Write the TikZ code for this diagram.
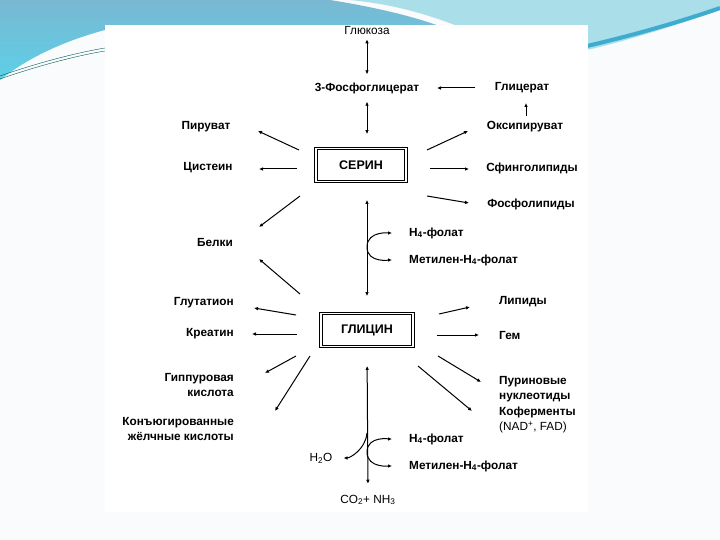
\documentclass[tikz,border=0pt]{standalone}
\usepackage{fontspec}
\setmainfont{Liberation Sans}
\usetikzlibrary{arrows.meta, positioning}
\definecolor{slidebg}{RGB}{250,251,252}
\definecolor{slideblue}{RGB}{122,184,210}
\definecolor{slidecyan}{RGB}{170,222,232}
\definecolor{stripeblue}{RGB}{62,172,208}
\definecolor{leftcyan}{RGB}{92,208,232}

\begin{document}
\begin{tikzpicture}[
    x=1pt, y=-1pt,
    lbl/.style={font=\bfseries\fontsize{11.8}{15}\selectfont, inner sep=1pt},
    thin lbl/.style={font=\fontsize{11.8}{15}\selectfont, inner sep=1pt},
    box/.style={draw, double, double distance=1.8pt, line width=0.9pt,
                minimum width=90pt, minimum height=33pt, font=\bfseries\fontsize{12.5}{14}\selectfont},
    arrow/.style={-{Latex[length=4pt,width=3.6pt]}, line width=1pt},
    both/.style={{Latex[length=4pt,width=3.6pt]}-{Latex[length=4pt,width=3.6pt]}, line width=1pt}
]
% slide background
\useasboundingbox (0,0) rectangle (720,540);
\fill[slidebg] (0,0) rectangle (720,540);
\shade[top color=slideblue, bottom color=leftcyan]
    (0,0) -- (330,0) .. controls (380,8) and (420,18) .. (450,30) -- (105,30)
    .. controls (60,42) and (25,60) .. (0,80) -- cycle;
\fill[slidecyan] (350,0) -- (720,0) -- (720,10) .. controls (680,24) and (630,40) .. (587,50)
    -- (587,25) -- (455,25) .. controls (420,12) and (390,4) .. (350,0) -- cycle;
\draw[stripeblue, line width=4pt] (587,46) .. controls (630,36) and (680,22) .. (720,8);
\draw[teal!70!black, line width=0.4pt] (0,76) .. controls (40,62) and (80,52) .. (105,48);
\draw[teal!70!black, line width=0.4pt] (0,79) .. controls (40,65) and (80,55) .. (105,51);
\fill[white] (105,25) rectangle (588,512);

% substances
\node[thin lbl] (glucose) at (367,30) {Глюкоза};
\node[lbl] (pga) at (367,88) {3-Фосфоглицерат};
\node[lbl] (glycerate) at (522,88) {Глицерат};
\node[lbl] (hpyr) at (525,127) {Оксипируват};
\node[lbl] (pyruvate) at (206,127) {Пируват};
\node[lbl] (cysteine) at (208,168) {Цистеин};
\node[box] (serine) at (361,165) {СЕРИН};
\node[lbl] (sphingo) at (532,168) {Сфинголипиды};
\node[lbl] (phospho) at (531,204) {Фосфолипиды};
\node[lbl] (proteins) at (215,242) {Белки};
\node[lbl, anchor=west] (h4a) at (408,233) {H\textsubscript{4}-фолат};
\node[lbl, anchor=west] (metha) at (408,260) {Метилен-H\textsubscript{4}-фолат};
\node[lbl, anchor=east] (glutathione) at (235,303) {Глутатион};
\node[lbl, anchor=east] (creatine) at (235,334) {Креатин};
\node[box, minimum width=92pt] (glycine) at (367,330) {ГЛИЦИН};
\node[lbl, anchor=west] (lipids) at (498,302) {Липиды};
\node[lbl, anchor=west] (heme) at (498,335) {Гем};
\node[lbl, anchor=east, align=right] (hippuric) at (235,385) {Гиппуровая\\кислота};
\node[lbl, anchor=east, align=right] (bile) at (235,429) {Конъюгированные\\жёлчные кислоты};
\node[lbl, anchor=west, align=left] (purine) at (498,389) {Пуриновые\\нуклеотиды};
\node[lbl, anchor=west, align=left] (coenz) at (498,420) {Коферменты\\\mdseries(NAD\textsuperscript{+}, FAD)};
\node[lbl, anchor=west] (h4b) at (408,439) {H\textsubscript{4}-фолат};
\node[lbl, anchor=west] (methb) at (408,466) {Метилен-H\textsubscript{4}-фолат};
\node[thin lbl] (water) at (321,458) {H\textsubscript{2}O};
\node[thin lbl] (co2) at (368,500) {CO\textsubscript{2}+ NH\textsubscript{3}};

% arrow ends
\foreach \n/\xy in {s-pyr/{299,150}, pyr-in/{258,131}, s-cys/{297,169}, cys-in/{259,169},
    s-hp/{427,150}, hp-in/{468,131}, s-sph/{430,169}, sph-in/{469,169},
    s-pho/{427,196}, pho-in/{469,203}, s-pro/{300,196}, pro-in/{259,227},
    gl-out/{475,88}, pga-in/{437,88}, hp-out/{526,116}, gl-in/{526,103},
    g-pro/{300,294}, pro-in2/{259,259}, g-glu/{296,315}, glu-in/{254,308},
    g-cre/{297,334}, cre-in/{252,334}, g-lip/{439,314}, lip-in/{470,307},
    g-hem/{437,335}, hem-in/{479,335}, g-hip/{296,356}, hip-in/{265,373},
    g-bil/{310,356}, bil-in/{275,411}, g-pur/{438,356}, pur-in/{481,382},
    g-coe/{418,366}, coe-in/{472,411},
    fol-a/{367,247}, fol-b/{367,452}, wat-out/{367,433}}
  \coordinate (\n) at (\xy);

% main axis
\draw[both, shorten <=4pt, shorten >=7pt] (glucose) -- (pga);
\draw[both, shorten <=7pt, shorten >=14pt] (pga) -- (pga |- serine.north);
\draw[both, shorten <=18pt, shorten >=17pt] (serine.south -| glycine) -- (glycine.north);
\draw[both, shorten <=19pt, shorten >=10pt] (glycine.south) -- (co2.north);
\draw[arrow] (gl-out) -- (pga-in);
\draw[arrow] (hp-out) -- (gl-in);

% from serine
\draw[arrow] (s-pyr) -- (pyr-in);
\draw[arrow] (s-cys) -- (cys-in);
\draw[arrow] (s-hp) -- (hp-in);
\draw[arrow] (s-sph) -- (sph-in);
\draw[arrow] (s-pho) -- (pho-in);
\draw[arrow] (s-pro) -- (pro-in);
\draw[arrow, shorten >=16pt] (fol-a) to[out=90, in=180] (h4a.west);
\draw[arrow, shorten >=16pt] (fol-a) to[out=-90, in=180] (metha.west);

% from glycine
\draw[arrow] (g-pro) -- (pro-in2);
\draw[arrow] (g-glu) -- (glu-in);
\draw[arrow] (g-cre) -- (cre-in);
\draw[arrow] (g-lip) -- (lip-in);
\draw[arrow] (g-hem) -- (hem-in);
\draw[arrow] (g-hip) -- (hip-in);
\draw[arrow] (g-bil) -- (bil-in);
\draw[arrow] (g-pur) -- (pur-in);
\draw[arrow] (g-coe) -- (coe-in);
\draw[arrow, shorten >=16pt] (fol-b) to[out=90, in=180] (h4b.west);
\draw[arrow, shorten >=16pt] (fol-b) to[out=-90, in=180] (methb.west);
\draw[arrow, shorten >=10pt] (wat-out) to[out=-95, in=0] (water.east);
\end{tikzpicture}
\end{document}
